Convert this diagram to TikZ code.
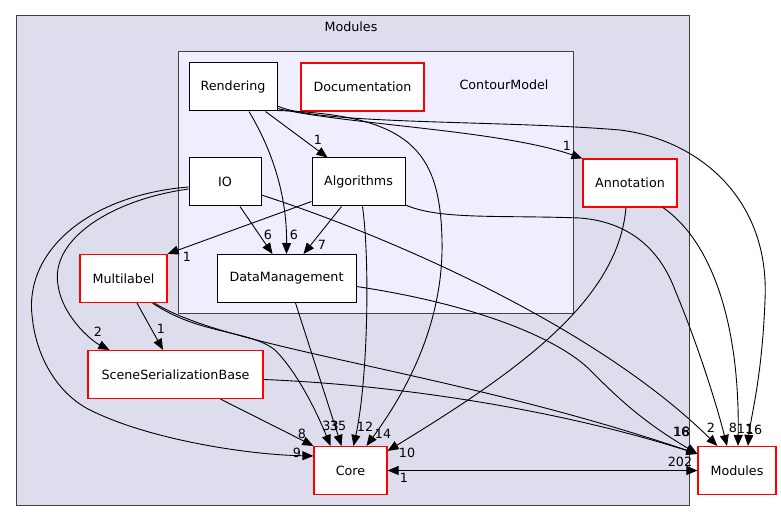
\documentclass[tikz,border=0pt]{standalone}
\usepackage{fontspec}
\setmainfont{DejaVu Sans}
\usetikzlibrary{arrows.meta,calc}

\definecolor{outerbg}{HTML}{DDDDEE}
\definecolor{innerbg}{HTML}{EEEEFF}
\definecolor{clusterline}{HTML}{404040}
\definecolor{extline}{HTML}{FF0000}

\begin{document}
\begin{tikzpicture}[
  x=1pt, y=-1pt,
  >={Triangle[length=11pt,width=9pt]},
  dir/.style={draw, fill=white, line width=1pt, minimum height=48pt, inner sep=0pt, font=\fontsize{12.7}{15}\selectfont},
  ext/.style={dir, draw=extline, line width=1.2pt},
  lbl/.style={inner sep=0pt, font=\fontsize{12.7}{15}\selectfont},
  arr/.style={->, line width=0.9pt}]
  \useasboundingbox (0,0) rectangle (781,521);
  % clusters
  \draw[clusterline, fill=outerbg, line width=1pt] (16,16) rectangle (689,505);
  \node[lbl] (t-modules) at (351,27) {Modules};
  \draw[clusterline, fill=innerbg, line width=1pt] (178,52) rectangle (573,313);
  \node[lbl] (t-contour) at (504,85) {ContourModel};
  % directories
  \node[dir, minimum width=88pt] (ren) at (233,87) {Rendering};
  \node[ext, minimum width=123pt] (doc) at (362.5,87) {Documentation};
  \node[dir, minimum width=72pt] (io) at (225,182) {IO};
  \node[dir, minimum width=93pt] (alg) at (358.5,182) {Algorithms};
  \node[dir, minimum width=139pt] (dm) at (286.5,278.5) {DataManagement};
  \node[ext, minimum width=94pt] (annot) at (630,183) {Annotation};
  \node[ext, minimum width=87pt] (ml) at (123.5,278.5) {Multilabel};
  \node[ext, minimum width=175pt] (ssb) at (175.5,374.5) {SceneSerializationBase};
  \node[ext, minimum width=73pt] (core) at (350.5,470.5) {Core};
  \node[ext, minimum width=78pt] (mod) at (737,470.5) {Modules};
  % dependencies
  \draw[arr] ($(ren.south east)+(-12,0)$) -- ($(alg.north west)+(16,0)$);
  \draw[arr] ($(ren.south)+(16,0)$) .. controls (275,155) and (287,200) .. (dm.north);
  \draw[arr] ($(io.south)+(15,0)$) -- ($(dm.north)+(-14,0)$);
  \draw[arr] ($(alg.south)+(-17,0)$) -- ($(dm.north)+(17,0)$);
  \draw[arr] ($(alg.south west)+(0,-5)$) -- (ml.north east);
  \draw[arr] ($(ren.south east)+(0,-3)$) .. controls (350,125) and (500,130) .. (annot.north west);
  \draw[arr] ($(ren.east)+(0,19)$) .. controls (320,125) and (500,120) .. (620,130)
    .. controls (700,140) and (770,200) .. (765,300) .. controls (762,380) and (750,420) .. ($(mod.north)+(11,0)$);
  \draw[arr] ($(ren.south east)+(0,-1)$) .. controls (410,115) and (440,150) .. (442,240)
    .. controls (444,330) and (400,400) .. ($(core.north)+(16,0)$);
  \draw[arr] ($(alg.south)+(4,0)$) .. controls (370,260) and (368,380) .. ($(core.north)+(3,0)$);
  \draw[arr] ($(alg.east)+(0,23)$) .. controls (440,220) and (500,215) .. (580,218)
    .. controls (630,222) and (660,250) .. (675,290) .. controls (700,350) and (718,410) .. ($(mod.north)+(-10,0)$);
  \draw[arr] ($(annot.south)+(33,0)$) .. controls (710,240) and (740,320) .. ($(mod.north)+(1,0)$);
  \draw[arr] ($(annot.south)+(-4,0)$) .. controls (618,300) and (520,370) .. ($(core.north east)+(0,5)$);
  \draw[arr] ($(io.east)+(0,13)$) .. controls (400,240) and (600,330) .. ($(mod.north west)+(20,0)$);
  \draw[arr] ($(dm.east)+(0,8)$) .. controls (480,305) and (560,340) .. (590,370)
    .. controls (615,395) and (640,420) .. ($(mod.north west)+(0,8)$);
  \draw[arr] ($(ml.south)+(31,0)$) .. controls (230,350) and (450,370) .. ($(mod.north west)+(0,8)$);
  \draw[arr] ($(ml.south)+(29,0)$) .. controls (200,335) and (250,330) .. (275,350)
    .. controls (300,375) and (320,420) .. ($(core.north)+(-20,0)$);
  \draw[arr] ($(dm.south)+(9,0)$) -- ($(core.north)+(-9,0)$);
  \draw[arr] ($(ssb.south)+(45,0)$) -- (core.north west);
  \draw[arr] ($(ssb.east)+(0,5)$) .. controls (400,385) and (560,410) .. ($(mod.north west)+(0,8)$);
  \draw[arr] ($(ml.south)+(13.5,0)$) -- ($(ssb.north)+(-12.5,0)$);
  \draw[arr] ($(io.west)+(0,7)$) .. controls (110,200) and (50,240) .. (58,285)
    .. controls (62,315) and (90,340) .. ($(ssb.north west)+(22,0)$);
  \draw[arr] ($(io.west)+(0,5)$) .. controls (90,195) and (25,250) .. (32,315)
    .. controls (36,360) and (60,395) .. (90,410) .. controls (150,440) and (250,455) .. ($(core.north west)+(0,10)$);
  \draw[arr] (core.east) -- (mod.west);
  \draw[arr] (mod.west) -- (core.east);
  % edge counts
  \node[lbl] (n-ren-alg) at (318,140) {1};
  \node[lbl] (n-ren-dm) at (294,235) {6};
  \node[lbl] (n-io-dm) at (268,235) {6};
  \node[lbl] (n-alg-dm) at (322,245) {7};
  \node[lbl] (n-alg-ml) at (187,257) {1};
  \node[lbl] (n-ren-ann) at (567,146) {1};
  \node[lbl] (n-ren-mod) at (754,430) {16};
  \node[lbl] (n-ren-core) at (383,434) {14};
  \node[lbl] (n-alg-core) at (365,427) {12};
  \node[lbl] (n-alg-mod) at (733,428) {8};
  \node[lbl] (n-ann-mod) at (745,429) {11};
  \node[lbl] (n-ann-core) at (407,453) {10};
  \node[lbl] (n-io-mod) at (711,428) {2};
  \node[lbl] (n-dm-mod) at (682,432) {18};
  \node[lbl] (n-ssb-mod) at (681,432) {16};
  \node[lbl] (n-ml-core) at (330.5,426) {33};
  \node[lbl] (n-dm-core) at (338,426) {35};
  \node[lbl] (n-ssb-core) at (302,434) {8};
  \node[lbl] (n-io-core) at (297,453) {9};
  \node[lbl] (n-io-ssb) at (98,332) {2};
  \node[lbl] (n-ml-ssb) at (161,329) {1};
  \node[lbl] (n-core-mod) at (680,462) {202};
  \node[lbl] (n-mod-core) at (404,478) {1};
\end{tikzpicture}
\end{document}
